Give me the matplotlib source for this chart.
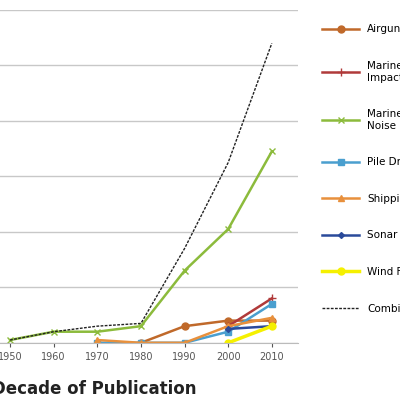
import matplotlib
matplotlib.use("Agg")
import matplotlib.pyplot as plt

decades = [1950, 1960, 1970, 1980, 1990, 2000, 2010]
airgun_x = [1980, 1990, 2000, 2010]; airgun = [0, 3, 4, 4]
impact_x = [2000, 2010]; impact = [3, 8]
noise = [0.5, 2, 2, 3, 13, 20.5, 34.5]
pile_x = [1970, 1980, 1990, 2000, 2010]; pile = [0, 0, 0, 2, 7]
ship_x = [1970, 1980, 1990, 2000, 2010]; ship = [0.5, 0, 0, 3, 4.5]
sonar_x = [2000, 2010]; sonar = [2.5, 3]
wind_x = [2000, 2010]; wind = [0, 3]
combined = [0.5, 2, 3, 3.5, 17, 32.5, 54]

fig = plt.figure(figsize=(4, 4), dpi=100)
ax = fig.add_axes([0.0, 0.143, 0.745, 0.832])
ax.plot(airgun_x, airgun, color="#c0692a", marker="o", ms=5, lw=1.8, label="Airgun/Seismic")
ax.plot(impact_x, impact, color="#b03a3a", marker="+", ms=6, lw=1.8, label="Marine Mammal\nImpact")
ax.plot(decades, noise, color="#8cbb3c", marker="x", ms=5, lw=1.8, label="Marine/Ocean\nNoise")
ax.plot(pile_x, pile, color="#4a9fcf", marker="s", ms=5, lw=1.8, label="Pile Driving")
ax.plot(ship_x, ship, color="#e8903c", marker="^", ms=5, lw=1.8, label="Shipping")
ax.plot(sonar_x, sonar, color="#2a4a9a", marker="D", ms=3, lw=1.8, label="Sonar Activity")
ax.plot(wind_x, wind, color="#f5f000", marker="o", ms=5, lw=2.5, label="Wind Farms")
ax.plot(decades, combined, color="#222222", ls="--", lw=1, dashes=(2, 1), label="Combined")
ax.set_xlim(1947.7, 2016)
ax.set_ylim(0, 60)
ax.set_yticks(range(0, 61, 10))
ax.set_yticklabels([])
ax.tick_params(axis="y", length=0)
ax.set_xticks(decades)
ax.tick_params(axis="x", labelsize=7, colors="#555555", length=3)
ax.grid(axis="y", color="#c8c8c8", lw=1)
for s in ["left", "top", "right"]:
    ax.spines[s].set_visible(False)
ax.spines["bottom"].set_color("#bbbbbb")
ax.legend(loc="upper left", bbox_to_anchor=(1.05, 0.985), frameon=False, fontsize=7.5,
          labelspacing=2.55, handlelength=3.5)
fig.text(-0.02, 0.015, "Decade of Publication", fontsize=12, fontweight="bold", color="#222222")
fig.savefig("out.png", dpi=100)
